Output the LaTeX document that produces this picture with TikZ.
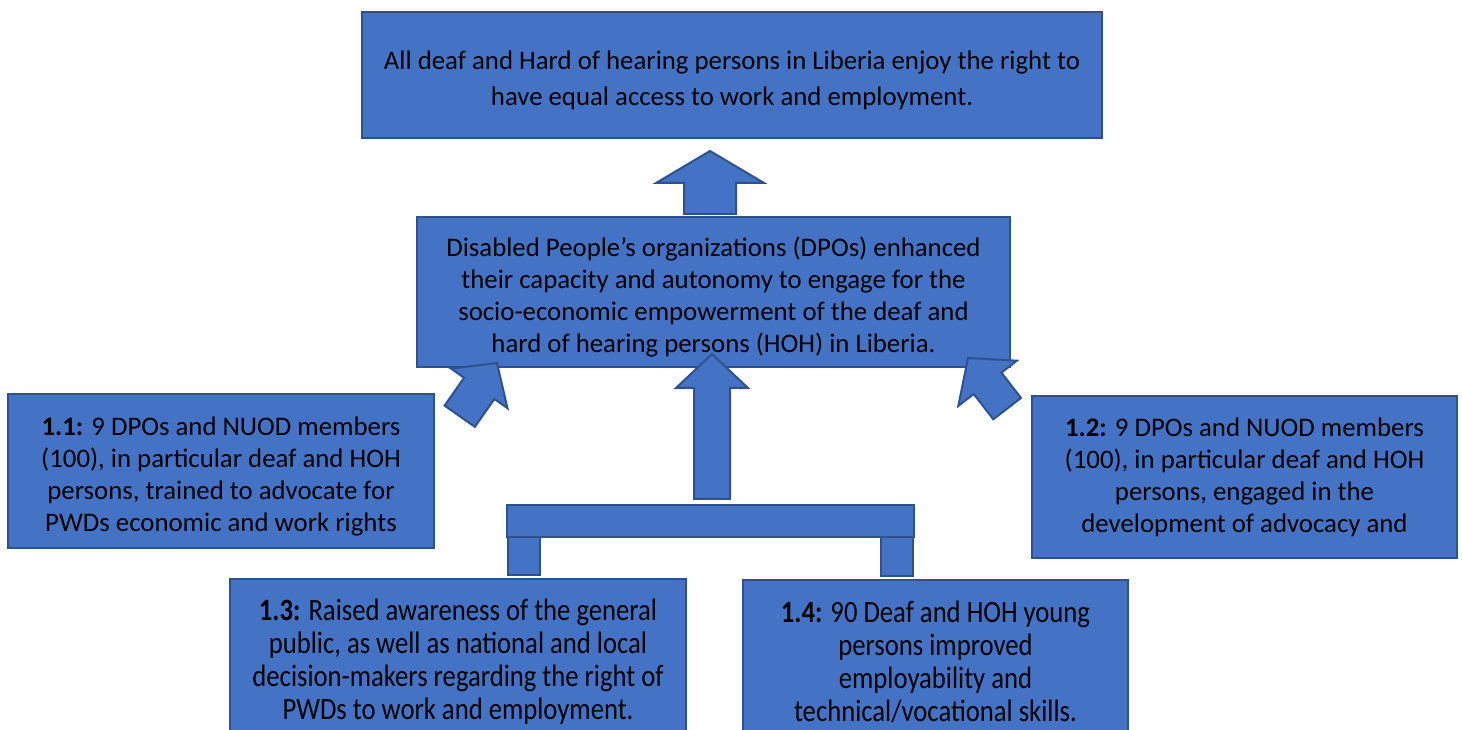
\documentclass[tikz,border=0pt]{standalone}
\usepackage{fontspec}
\setmainfont{Carlito}
\newfontfamily\narrowfont{Carlito}[FakeStretch=0.86]

\definecolor{boxfill}{RGB}{68,114,196}
\definecolor{boxline}{RGB}{47,82,143}

\tikzset{
  resultbox/.style={draw=boxline, fill=boxfill, line width=1pt, align=center, inner sep=0pt,
    font=\fontsize{13.4}{16}\selectfont},
  narrowbox/.style={resultbox, font=\narrowfont\fontsize{15.5}{16.5}\selectfont},
  barbox/.style={draw=boxline, fill=boxfill, line width=1pt, inner sep=0pt},
  arrowshape/.style={draw=boxline, fill=boxfill, line width=1pt, line join=miter}
}

% extra room above the first line of a box
\newcommand{\topgap}{\rule{0pt}{14.5pt}}

% block arrow: tip, angle, length, head length, head width, shaft width
\newcommand{\blockarrow}[6]{%
  \begin{scope}[shift={#1}, rotate=#2]
    \filldraw[arrowshape] (0,0) -- (-#4,#5/2) -- (-#4,#6/2) -- (-#3,#6/2)
      -- (-#3,-#6/2) -- (-#4,-#6/2) -- (-#4,-#5/2) -- cycle;
  \end{scope}}

\begin{document}
\begin{tikzpicture}[x=0.5pt,y=0.5pt]
\clip (0,0) rectangle (1462,729);

\node[resultbox, minimum width=370pt, minimum height=63pt,
  font=\fontsize{13.4}{18}\selectfont] at (732,654) (goal)
  {\topgap All deaf and Hard of hearing persons in Liberia enjoy the right to\\
   have equal access to work and employment.};
\node[resultbox, minimum width=296.5pt, minimum height=75pt] at (713.5,437) (purpose)
  {\topgap Disabled People’s organizations (DPOs) enhanced\\
   their capacity and autonomy to engage for the\\
   socio-economic empowerment of the deaf and\\
   hard of hearing persons (HOH) in Liberia.};

\node[resultbox, minimum width=213pt, minimum height=77pt] at (221,258) (res11)
  {\topgap\textbf{1.1:} 9 DPOs and NUOD members\\
   (100), in particular deaf and HOH\\
   persons, trained to advocate for\\
   PWDs economic and work rights};
\node[resultbox, minimum width=212.5pt, minimum height=81pt] at (1244.5,252) (res12)
  {\textbf{1.2:} 9 DPOs and NUOD members\\
   (100), in particular deaf and HOH\\
   persons, engaged in the\\
   development of advocacy and};
\node[narrowbox, minimum width=228pt, minimum height=79pt] at (458,71) (res13)
  {\topgap\textbf{1.3:} Raised awareness of the general\\
   public, as well as national and local\\
   decision-makers regarding the right of\\
   PWDs to work and employment.};
\node[narrowbox, minimum width=192.5pt, minimum height=78.5pt] at (935.5,70.5) (res14)
  {\topgap\textbf{1.4:} 90 Deaf and HOH young\\
   persons improved\\
   employability and\\
   technical/vocational skills.};

% bracket joining 1.3 and 1.4
\node[barbox, minimum width=203.5pt, minimum height=16pt] at (710.5,208) (bar) {};
\node[barbox, minimum width=16pt, minimum height=19pt] at (524,173) (legleft) {};
\node[barbox, minimum width=16pt, minimum height=19.5pt] at (897,172.5) (legright) {};

% block arrows
\blockarrow{(710,578)}{90}{63}{32}{108}{52}
\blockarrow{(712,375)}{90}{145}{34}{72}{36}
\blockarrow{(497,366)}{55}{65}{31}{69}{37}
\blockarrow{(968,371)}{127.7}{64}{32}{74}{35}

\end{tikzpicture}
\end{document}
